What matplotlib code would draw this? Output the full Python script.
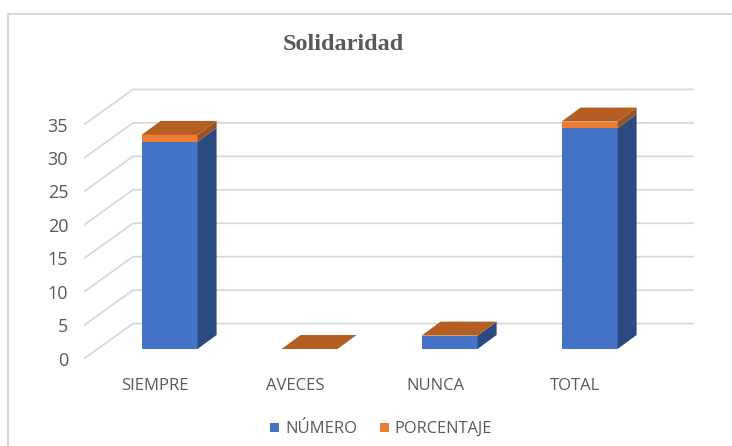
import matplotlib
matplotlib.use("Agg")
import matplotlib.pyplot as plt
from matplotlib.patches import Polygon, Rectangle

categorias = ["SIEMPRE", "AVECES", "NUNCA", "TOTAL"]
numero = [31, 0, 2, 33]
porcentaje = [1, 0, 0, 1]
ticks = [0, 5, 10, 15, 20, 25, 30, 35]

# profundidad 3D, en unidades de los ejes
dx = 0.136
dy = 2.09
ancho = 0.4

plt.rcParams["font.family"] = ["Open Sans", "DejaVu Sans"]

fig = plt.figure(figsize=(7.32, 4.46), dpi=100)
ax = fig.add_axes([85 / 732, 1 - 349 / 446, (728 - 85) / 732, (349 - 20) / 446])
ax.set_xlim(0, 643 / 140.0)
ax.set_ylim(0, 329 / 6.69)
ax.axis("off")

# pared y piso
for t in ticks:
    ax.plot([0, 0.343, 4.343], [t - 1.35, t + 3.8, t + 3.8], color="#d9d9d9", lw=1.3, zorder=1, clip_on=False)

for i, cat in enumerate(categorias):
    x0 = 0.404 + i
    n = numero[i]
    p = n + porcentaje[i]
    if n > 0:
        ax.add_patch(Rectangle((x0, 0), ancho, n, color="#4472c4", lw=0, zorder=3))
        ax.add_patch(Polygon([(x0 + ancho, 0), (x0 + ancho + dx, dy), (x0 + ancho + dx, n + dy), (x0 + ancho, n)],
                             color="#2a4a80", lw=0, zorder=3))
    if p > n:
        ax.add_patch(Rectangle((x0, n), ancho, p - n, color="#ed7d31", lw=0, zorder=4))
        ax.add_patch(Polygon([(x0 + ancho, n), (x0 + ancho + dx, n + dy), (x0 + ancho + dx, p + dy), (x0 + ancho, p)],
                             color="#9c5220", lw=0, zorder=4))
    ax.add_patch(Polygon([(x0, p), (x0 + ancho, p), (x0 + ancho + dx, p + dy), (x0 + dx, p + dy)],
                         color="#b55e22", lw=0, zorder=5))
    ax.text(x0 + ancho / 2 - 0.104, -5.5, cat, ha="center", va="center", fontsize=12, color="#595959", clip_on=False)

for t in ticks:
    ax.text(-0.12, t - 1.75, str(t), ha="right", va="center", fontsize=13, color="#595959", clip_on=False)

fig.text(343.5 / 732, 1 - 44 / 446, "Solidaridad", ha="center", va="center", fontsize=17.5,
         fontweight="bold", family="Liberation Serif", color="#595959")

# leyenda
fig.patches.append(Rectangle((270 / 732, 1 - 432 / 446), 9 / 732, 9 / 446, transform=fig.transFigure, color="#4472c4", lw=0))
fig.patches.append(Rectangle((380 / 732, 1 - 432 / 446), 9 / 732, 9 / 446, transform=fig.transFigure, color="#ed7d31", lw=0))
fig.text(285 / 732, 1 - 429 / 446, "NÚMERO", va="center", fontsize=12, color="#595959")
fig.text(394 / 732, 1 - 429 / 446, "PORCENTAJE", va="center", fontsize=11.8, color="#595959")

# marco
fig.add_artist(plt.Line2D([8 / 732, 8 / 732], [0, 1 - 14 / 446], color="#d9d9d9", lw=1.5))
fig.add_artist(plt.Line2D([8 / 732, 1], [1 - 14 / 446, 1 - 14 / 446], color="#d9d9d9", lw=1.5))

fig.savefig("out.png", dpi=100)
